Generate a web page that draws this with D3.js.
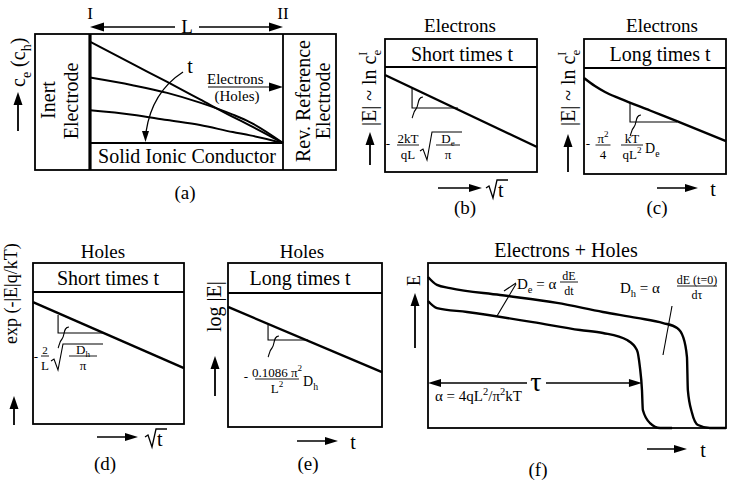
<!DOCTYPE html>
<html><head><meta charset="utf-8">
<script src="https://cdn.jsdelivr.net/npm/d3@7"></script>
<style>
body{margin:0;background:#fff}
svg{display:block}
text{font-family:'Liberation Serif','Times New Roman',serif;fill:#000;white-space:pre}
</style>
</head><body>
<script>
// ---------------- DATA (normalised schematic values) -------------
// (a) concentration profiles across the cell (x: 0 at electrode I, 1 at electrode II)
const profileX     = [0, 0.22, 0.40, 0.57, 0.74, 0.83, 1];
const profileEarly = [0.93, 0.725, 0.56, 0.40, 0.24, 0.16, 0];
const profileMid   = [0.60, 0.53, 0.46, 0.37, 0.26, 0.19, 0];
const profileLate  = [0.30, 0.26, 0.21, 0.165, 0.10, 0.07, 0];

// (b) electrons, short times: |E| vs sqrt(t)
const electronShortX = [0, 1];
const electronShortY = [0.924, 0.238];
// (c) electrons, long times: |E| vs t
const electronLongX = [0, 0.077, 0.148, 0.254, 0.465, 0.641, 1];
const electronLongY = [0.906, 0.830, 0.774, 0.712, 0.599, 0.505, 0.311];
// (d) holes, short times
const holeShortX = [0, 1];
const holeShortY = [0.924, 0.424];
// (e) holes, long times
const holeLongX = [0, 1];
const holeLongY = [0.896, 0.410];
// slope triangles [x0, x1, yTop, yBottom]
const slopeB = [0.178, 0.48, 0.81, 0.61];
const slopeC = [0.324, 0.655, 0.68, 0.491];
const slopeD = [0.166, 0.464, 0.826, 0.689];
const slopeE = [0.26, 0.52, 0.761, 0.649];

// (f) electrons + holes: E vs t
const upperX = [0, 0.030, 0.074, 0.242, 0.433, 0.587, 0.701, 0.789, 0.836, 0.856, 0.869, 0.872, 0.886, 0.906, 0.946, 1.0];
const upperY = [0.915, 0.867, 0.848, 0.806, 0.758, 0.703, 0.667, 0.636, 0.606, 0.552, 0.430, 0.230, 0.091, 0.018, 0.0, 0.0];
const lowerX = [0, 0.030, 0.131, 0.352, 0.510, 0.587, 0.668, 0.701, 0.711, 0.718, 0.721, 0.745, 0.779, 0.819];
const lowerY = [0.770, 0.727, 0.703, 0.642, 0.594, 0.576, 0.533, 0.473, 0.370, 0.230, 0.109, 0.030, 0.0, 0.0];
const tauEnd = 0.718, tauLevel = 0.273;

// ---------------- LAYOUT ----------------
const P = {
  a: {x0: 90, x1: 283, y0: 34, y1: 143},
  b: {x0: 385, x1: 537, top: 39, y0: 67, y1: 172},
  c: {x0: 584, x1: 726, top: 39, y0: 68, y1: 174},
  d: {x0: 33, x1: 184, top: 263, y0: 292, y1: 424},
  e: {x0: 228, x1: 382, top: 263, y0: 293, y1: 427},
  f: {x0: 428, x1: 726, y0: 263, y1: 428}
};
const K = '#000';
const svg = d3.select('body').append('svg').attr('width', 729).attr('height', 486);

function ln(g, x1, y1, x2, y2, sw = 1.5) {
  return g.append('line').attr('x1', x1).attr('y1', y1).attr('x2', x2).attr('y2', y2)
    .attr('stroke', K).attr('stroke-width', sw);
}
function rich(sel, str, size) {
  const toks = []; let buf = '';
  for (let i = 0; i < str.length; i++) {
    const c = str[i];
    if ((c === '_' || c === '^') && i + 1 < str.length) {
      if (buf) { toks.push({t: buf, m: 0}); buf = ''; }
      toks.push({t: str[++i], m: c});
    } else buf += c;
  }
  if (buf) toks.push({t: buf, m: 0});
  let shift = 0;
  toks.forEach(k => {
    const target = k.m === '_' ? size * 0.28 : k.m === '^' ? -size * 0.4 : 0;
    const ts = sel.append('tspan').attr('dy', target - shift).text(k.t);
    if (k.m) ts.attr('font-size', size * 0.7);
    shift = target;
  });
  return sel;
}
function txt(g, x, y, s, size, anchor = 'middle') {
  const t = g.append('text').attr('x', x).attr('y', y).attr('font-size', size).attr('text-anchor', anchor);
  return rich(t, s, size);
}
function vtxt(g, x, y, s, size, anchor = 'middle') {
  const t = g.append('text').attr('transform', `translate(${x},${y}) rotate(-90)`)
    .attr('font-size', size).attr('text-anchor', anchor);
  return rich(t, s, size);
}
function head(g, x, y, ang, len = 12, wid = 4) {
  const c = Math.cos(ang), s = Math.sin(ang);
  const bx = x - c * len, by = y - s * len, px = -s * wid, py = c * wid;
  g.append('path').attr('d', `M${x},${y}L${bx + px},${by + py}L${bx - px},${by - py}Z`).attr('fill', K);
}
function arrow(g, x1, y1, x2, y2, sw = 1.5, len = 12, wid = 4) {
  const a = Math.atan2(y2 - y1, x2 - x1);
  ln(g, x1, y1, x2 - Math.cos(a) * len * 0.7, y2 - Math.sin(a) * len * 0.7, sw);
  head(g, x2, y2, a, len, wid);
}
function frac(g, cx, by, num, den, size, w, nsize) {
  txt(g, cx, by - 2.5, num, nsize || size);
  txt(g, cx, by + size * 1.05, den, size);
  ln(g, cx - w / 2, by, cx + w / 2, by, 0.9);
}
function radical(g, x, yTop, yBot, xEnd) {
  g.append('path').attr('d', `M${x},${yBot - 9} L${x + 3},${yBot - 11} L${x + 7},${yBot} L${x + 12},${yTop} L${xEnd},${yTop}`)
    .attr('fill', 'none').attr('stroke', K).attr('stroke-width', 1.1);
}
function sqrtT(g, x, base) {
  g.append('path').attr('d', `M${x},${base - 9} L${x + 3},${base - 11} L${x + 7},${base + 1} L${x + 11},${base - 17} L${x + 22},${base - 17}`)
    .attr('fill', 'none').attr('stroke', K).attr('stroke-width', 1.3);
  txt(g, x + 12, base, 't', 20, 'start');
}
function scales(p) {
  return {
    x: d3.scaleLinear().domain([0, 1]).range([p.x0, p.x1]),
    y: d3.scaleLinear().domain([0, 1]).range([p.y1, p.y0])
  };
}
function curve(g, s, xs, ys, sw = 2.2, cf = d3.curveMonotoneX) {
  const pts = xs.map((x, i) => [x, ys[i]]);
  g.append('path').attr('d', d3.line().x(d => s.x(d[0])).y(d => s.y(d[1])).curve(cf)(pts))
    .attr('fill', 'none').attr('stroke', K).attr('stroke-width', sw).attr('stroke-linejoin', 'round');
}
function slopeTri(g, s, t) {
  const [x0, x1, yt, yb] = t;
  g.append('path').attr('d', `M${s.x(x0)},${s.y(yt)} L${s.x(x0)},${s.y(yb)} L${s.x(x1)},${s.y(yb)}`)
    .attr('fill', 'none').attr('stroke', K).attr('stroke-width', 1.1);
}
function squiggle(g, x, y) {
  g.append('path').attr('d', `M${x},${y} C${x - 6},${y} ${x - 4},${y + 9} ${x - 7},${y + 12} S${x - 10},${y + 20} ${x - 11},${y + 21}`)
    .attr('fill', 'none').attr('stroke', K).attr('stroke-width', 1.1);
}
function framed(g, p) {
  g.append('rect').attr('x', p.x0).attr('y', p.top).attr('width', p.x1 - p.x0).attr('height', p.y1 - p.top)
    .attr('fill', 'none').attr('stroke', K).attr('stroke-width', 1.8);
  ln(g, p.x0, p.y0, p.x1, p.y0, 1.8);
}
function eLabel(g, x, y) {
  const t = g.append('text').attr('transform', `translate(${x},${y}) rotate(-90)`).attr('font-size', 20);
  t.append('tspan').text('|E| ~ ln c');
  t.append('tspan').attr('font-size', 13).attr('dy', 5).text('e');
  t.append('tspan').attr('font-size', 12).attr('dx', -6).attr('dy', -14).text('I');
}

// ---------------- (a) ----------------
{
  const g = svg.append('g');
  const p = P.a, s = scales(p);
  g.append('rect').attr('x', 35).attr('y', p.y0).attr('width', 301).attr('height', 136)
    .attr('fill', 'none').attr('stroke', K).attr('stroke-width', 1.8);
  ln(g, p.x0, p.y0, p.x0, 170, 3.2);
  ln(g, p.x1, p.y0, p.x1, 170, 1.8);
  ln(g, p.x0, p.y1, p.x1, p.y1, 1.8);
  curve(g, s, profileX, profileEarly, 2);
  curve(g, s, profileX, profileMid, 2);
  curve(g, s, profileX, profileLate, 2);
  txt(g, 187, 163, 'Solid Ionic Conductor', 20);
  vtxt(g, 55, 100, 'Inert', 20);
  vtxt(g, 78, 101, 'Electrode', 20);
  vtxt(g, 310, 101, 'Rev. Reference', 20);
  vtxt(g, 330, 101, 'Electrode', 20);
  txt(g, 90, 19, 'I', 17);
  txt(g, 283, 19, 'II', 17);
  txt(g, 187, 33, 'L', 19);
  arrow(g, 175, 27, 90, 27, 1.5, 14, 4.5);
  arrow(g, 199, 27, 283, 27, 1.5, 14, 4.5);
  txt(g, 207, 84, 'Electrons', 15, 'start');
  txt(g, 237, 101, '(Holes)', 15);
  arrow(g, 208, 87, 283, 87, 1.2, 14, 4.5);
  txt(g, 190, 73, 't', 20);
  g.append('path').attr('d', 'M183,72 Q152,92 146,132').attr('fill', 'none').attr('stroke', K).attr('stroke-width', 1.3);
  head(g, 145.5, 142, Math.PI / 2, 11, 3.5);
  vtxt(g, 25, 87, 'c_e (c_h)', 20, 'start');
  arrow(g, 18, 131, 18, 92, 1.8, 13, 4.5);
  txt(g, 185, 199, '(a)', 19);
}

// ---------------- (b) ----------------
{
  const g = svg.append('g');
  const p = P.b, s = scales(p);
  framed(g, p);
  txt(g, 460, 32, 'Electrons', 19);
  txt(g, 462, 61, 'Short times t', 20);
  curve(g, s, electronShortX, electronShortY, 2.4, d3.curveLinear);
  slopeTri(g, s, slopeB);
  squiggle(g, 423, 97);
  txt(g, 388, 148, '-', 13);
  frac(g, 408, 145, '2kT', 'qL', 13, 22);
  radical(g, 420, 132, 160, 462);
  frac(g, 448, 145, 'D_e', 'π', 13, 24);
  eLabel(g, 376, 126);
  arrow(g, 370, 165, 370, 132, 1.8, 13, 4.5);
  arrow(g, 438, 188, 482, 188, 1.5, 13, 4);
  sqrtT(g, 486, 197);
  txt(g, 465, 214, '(b)', 19);
}

// ---------------- (c) ----------------
{
  const g = svg.append('g');
  const p = P.c, s = scales(p);
  framed(g, p);
  txt(g, 662, 32, 'Electrons', 19);
  txt(g, 660, 61, 'Long times t', 20);
  curve(g, s, electronLongX, electronLongY, 2.4);
  slopeTri(g, s, slopeC);
  squiggle(g, 641, 115);
  txt(g, 588, 148, '-', 13);
  frac(g, 603, 145, 'π^2', '4', 13, 15);
  frac(g, 632, 145, 'kT', 'qL^2', 13, 22);
  txt(g, 645, 153, 'D_e', 14, 'start');
  eLabel(g, 575, 126);
  arrow(g, 568, 172, 568, 134, 1.8, 13, 4.5);
  arrow(g, 657, 188, 698, 188, 1.5, 13, 4);
  txt(g, 713, 196, 't', 20);
  txt(g, 657, 214, '(c)', 19);
}

// ---------------- (d) ----------------
{
  const g = svg.append('g');
  const p = P.d, s = scales(p);
  framed(g, p);
  txt(g, 103, 258, 'Holes', 19);
  txt(g, 108, 285, 'Short times t', 20);
  curve(g, s, holeShortX, holeShortY, 2.4, d3.curveLinear);
  slopeTri(g, s, slopeD);
  squiggle(g, 69, 327);
  txt(g, 36, 361, '-', 13);
  frac(g, 45, 356, '2', 'L', 13, 8, 11);
  radical(g, 51, 344, 370, 103);
  frac(g, 83, 356, 'D_h', 'π', 13, 28);
  vtxt(g, 17, 344, 'exp (-|E|q/kT)', 18, 'start');
  arrow(g, 14, 425, 14, 396, 1.8, 13, 4.5);
  arrow(g, 97, 437, 138, 437, 1.5, 13, 4);
  sqrtT(g, 145, 446);
  txt(g, 105, 470, '(d)', 19);
}

// ---------------- (e) ----------------
{
  const g = svg.append('g');
  const p = P.e, s = scales(p);
  framed(g, p);
  txt(g, 302, 258, 'Holes', 19);
  txt(g, 300, 285, 'Long times t', 20);
  curve(g, s, holeLongX, holeLongY, 2.4, d3.curveLinear);
  slopeTri(g, s, slopeE);
  squiggle(g, 279, 336);
  txt(g, 246, 381, '-', 13);
  frac(g, 277, 379, '0.1086 π^2', 'L^2', 13, 44);
  txt(g, 303, 386, 'D_h', 14, 'start');
  vtxt(g, 221, 332, 'log |E|', 20, 'start');
  arrow(g, 215, 396, 215, 356, 1.8, 13, 4.5);
  arrow(g, 297, 441, 338, 441, 1.5, 13, 4);
  txt(g, 353, 449, 't', 20);
  txt(g, 308, 470, '(e)', 19);
}

// ---------------- (f) ----------------
{
  const g = svg.append('g');
  const p = P.f, s = scales(p);
  g.append('rect').attr('x', p.x0).attr('y', p.y0).attr('width', p.x1 - p.x0).attr('height', p.y1 - p.y0)
    .attr('fill', 'none').attr('stroke', K).attr('stroke-width', 1.8);
  txt(g, 566, 257, 'Electrons + Holes', 20);
  curve(g, s, upperX, upperY, 2.4);
  curve(g, s, lowerX, lowerY, 2.4);
  const ty = s.y(tauLevel);
  arrow(g, 527, ty, s.x(0), ty, 1.5, 13, 4);
  arrow(g, 546, ty, s.x(tauEnd), ty, 1.5, 13, 4);
  txt(g, 536, ty + 8, 'τ', 28);
  txt(g, 435, 401, 'α = 4qL^2/π^2kT', 15, 'start');
  txt(g, 517, 289, 'D_e = α', 15, 'start');
  frac(g, 569, 282, 'dE', 'dt', 12, 18);
  ln(g, 516, 283, 504, 291, 1.1);
  ln(g, 516, 284, 497, 316, 1.1);
  txt(g, 620, 293, 'D_h = α', 15, 'start');
  frac(g, 697, 286, 'dE (t=0)', 'dτ', 12, 40);
  ln(g, 672, 306, 663, 355, 1.1);
  vtxt(g, 420, 286, 'E', 18, 'start');
  arrow(g, 415, 348, 415, 293, 1.8, 13, 4.5);
  arrow(g, 647, 449, 687, 449, 1.5, 13, 4);
  txt(g, 703, 457, 't', 20);
  txt(g, 538, 476, '(f)', 19);
}
</script>
</body></html>
